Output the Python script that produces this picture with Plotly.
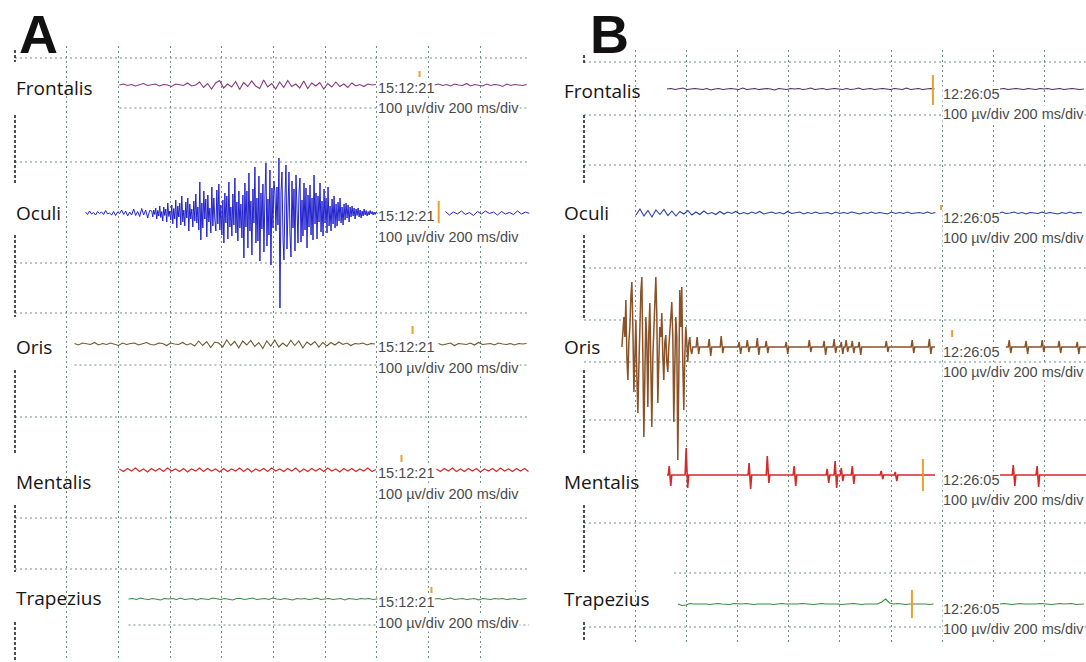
import numpy as np
import plotly.graph_objects as go

W, H = 1086, 662

MUSCLES = ["Frontalis", "Oculi", "Oris", "Mentalis", "Trapezius"]
STAMP_A = "15:12:21"
STAMP_B = "12:26:05"
SCALE_TEXT = "100 µv/div 200 ms/div"
UV_PER_DIV = 100.0          # vertical sensitivity
MS_PER_DIV = 200.0          # sweep speed
STAMP_T = 1400              # ms, start of the timestamp / scale labels

# ---------------- Panel A : amplitudes in µV (positive = up) ----------------
FR_A1_T0, FR_A1_DT = 404, 15.5
FR_A1 = [0, 2, -1, 1, -2, 0, 3, -1, 0, 2, -2, 1, 0, -3, 2, 1, -1, 4, -2, 0,
         6, -5, 3, -8, 4, 9, -6, 2, -4, 7, -9, 5, -3, 8, -2, -7, 10, -4, 3, -8,
         6, -5, 9, -3, 2, -6, 8, -7, 4, -2, 5, -8, 3, -4, 6, -3, 2, -5, 4, -2,
         1, -3, 2, 0, 1]
FR_A2_T0, FR_A2_DT = 1623, 15.5
FR_A2 = [0, 2, -1, 1, -2, 2, 0, -1, 3, -2, 1, 0, -2, 2, -1, 1, 0, -3, 2, -1,
         1, 0, -1, 1]

# Oculi: quiet lead-in, then the blink burst sampled more densely
OC_A1_T0, OC_A1_DT = 273, 7.75
OC_A1 = [2, -3, 4, -2, 1, -4, 3, -1, 2, -3, 5, -2, 0, -4, 3, -5, 2, -1, 6, -3,
         4, -6, 2, -4, 8, -5, 3, -7, 9, -4, 6, -10, 5]
OC_A_BURST_T0, OC_A_BURST_DT = 529, 3.875
OC_A_BURST = [4, -8, 6, -3, 10, -12, 5, -6, 14, -9, 3, -16, 12, -5, 8, -18, 20, -7, 4, -14,
              16, -22, 9, -12, 26, -30, 14, -8, 20, -24, 34, -18, 6, -26, 22, -10, 30, -36,
              18, -12, 8, -28, 24, -16, 38, -20, 12, -34, 62, -54,
              20, -30, 44, -12, 28, -48, 36, -18, 10, -40, 52, -26, 30, -14, -36, 46, -22,
              58, -34, 16, -44, 26, -60, 40, -20, 34, -52, 62, -28, 12, -46, 38, -24, 70,
              -40, 22, -56, 44, -30, 18,
              -50, 36, -90, 60, -28, 44, -70, 80, -36, 24, -84, 48, -20, 92, -60, 30, -56,
              74, -96, 40, -32, 58, -78, 36, 100, -66, 28, -44, 86, -104, 50, -30, 64, 40,
              -36, 52, -24, 110, -190, 40, 82, -50, -94, 30, 96, -72, 22, 82, -40, -88, 64,
              -30, 48, -76, 76, -20, -60, 40, 70, -58, 26, -46, 60, -34, 50, -70, 36, -28, 56,
              -44, 30, -54, 76, -22, 40, -52, 34, -18, 60, -38, 24, -46, 48, -20, 30, -40,
              52, -26, 14, -36, 28, -22, 34, -30, 18, -26, 22, -16, 30, -20, 12, -24, 18,
              -14, 20, -10, 16, -18, 12,
              -8, 14, -6, 10, -12, 8, -5, 10, -8, 6, -10, 4, -6, 8, -4, 5, -6, 3, -4, 5,
              -2, 3, -4, 2, -3, 2, -1, 0]
OC_A2_T0, OC_A2_DT = 1665, 15.5
OC_A2 = [3, -4, 2, -2, 4, -3, 1, -5, 3, -2, 4, -1, 2, -4, 3, -2, 1, -3, 4, -2,
         2, -1]

OR_A1_T0, OR_A1_DT = 230, 15.5
OR_A1 = [1, -2, 2, 0, -1, 3, -2, 1, -1, 2, 0, -3, 2, -1, 1, 2, -2, 0, 3, -1,
         -2, 2, 1, -3, 2, 0, -1, 3, -2, 1,
         -4, 6, -3, 5, -7, 4, 2, -6, 8, -3, 5, -8, 6, -2, 7, -5, 3, -9, 6, -4,
         8, -6, 2, -5, 7, -3, 6, -8, 4, -2, 5, -6, 3, -4,
         3, -2, 4, -1, 2, -3, 1, 0, 2, -2, 1, 0]
OR_A2_T0, OR_A2_DT = 1638, 15.5
OR_A2 = [1, -2, 0, 2, -3, 1, 0, -1, 2, -2, 3, -1, 0, 1, -2, 2, 0, -1, 1, -2,
         1, 0, 1]

ME_A1_T0, ME_A1_DT = 404, 15.5
ME_A1 = [2, -3, 3, -2, 4, -3, 2, -4, 3, -2, 3, -3, 4, -2, 2, -3, 3, -4, 2, -2,
         4, -3, 3, -2, 2, -4, 3, -3, 2, -2, 4, -3, 3, -4, 2, -2, 3, -3, 4, -2,
         2, -3, 3, -2, 4, -4, 2, -3, 3, -2, 3, -3, 4, -2, 2, -4, 3, -2, 3, -3,
         2, -2, 4, -3, 1]
ME_A2_T0, ME_A2_DT = 1630, 15.5
ME_A2 = [2, -3, 3, -2, 4, -3, 2, -3, 3, -2, 3, -4, 2, -2, 3, -3, 4, -2, 2, -3,
         3, -2, 3, -3]

TR_A1_T0, TR_A1_DT = 439, 15.5
TR_A1 = [0, 1, -1, 2, 0, -1, 1, 0, -2, 1, 0, 1, -1, 2, -1, 0, 1, -2, 1, 0,
         -1, 2, 0, -1, 1, 0, -2, 1, 1, -1, 0, 2, -1, 0, 1, -1, 2, 0, -1, 1,
         0, -2, 1, 0, 1, -1, 0, 2, -1, 0, 1, -1, 0, 1, -2, 1, 0, -1, 1, 0,
         1, -1, 0, 1]
TR_A2_T0, TR_A2_DT = 1623, 15.5
TR_A2 = [0, 1, -1, 0, 2, -1, 0, 1, -1, 0, 1, -2, 1, 0, -1, 1, 0, 1, -1, 0,
         1, -1, 0, 1]

# event markers per channel: time (ms), low / high excursion (µV)
MARK_A_T = [1565, 1639, 1538, 1495, 1611]
MARK_A_LO = [16, -20, 20, 16, 12]
MARK_A_HI = [28, 24, 36, 30, 24]

# ---------------- Panel B : amplitudes in µV ----------------
FR_B1_T0, FR_B1_DT = 324, 15.6
FR_B1 = [0, 1, -1, 0, 2, -1, 0, 1, 0, -1, 1, -2, 0, 1, -1, 0, 1, 0, -1, 2,
         -1, 0, 1, -1, 0, 1, 0, -2, 1, 0, -1, 1, 0, 1, -1, 0, 2, -1, 0, 1,
         -1, 0, 1, 0, -1, 1, -1, 0, 2, -1, 0, 1, -1, 0, 1, 0, -1, 1, 0, -1,
         2, -1, 0, 1, -1, 0, 1, 0]
FR_B2_T0, FR_B2_DT = 1625, 15.6
FR_B2 = [0, 1, -1, 0, 1, 0, -1, 1, 0, -1, 1, 0, 1, -1, 0, 1, -1, 0, 1, 0,
         -1, 0]

OC_B1_T0, OC_B1_DT = 203, 15.6
OC_B1 = [-4, 8, -6, 5, -8, 6, -3, 7, -5, 4, -6, 3, -2, 5, -4, 2, -3, 4, -2, 1,
         -3, 3, -2, 2, -1, 3, -2, 1, -2, 2, -1, 3, -2, 0, 2, -1, 1, -2, 3, -1,
         0, 2, -2, 1, -1, 2, -1, 0, 1, -2, 2, -1, 1, -1, 2, 0, -2, 1, -1, 2,
         -1, 1, 0, -2, 2, -1, 1, -1, 2, -1, 0, 1, -1, 2, -1, 1]
OC_B2_T0, OC_B2_DT = 1602, 15.6
OC_B2 = [1, -2, 2, -1, 0, 2, -1, 1, -2, 1, 0, -1, 2, -1, 1, 0, -2, 1, -1, 2,
         -1, 1, 0]

# Oris burst at the start of the sweep, then isolated discharges
OR_B_BURST_T0, OR_B_BURST_DT = 148, 3.9
OR_B_BURST = [0, 30, 60, 20, 94, -20, -66, 10, 40, 100, 130, 40, -90, -20, 54, -60,
              -132, -40, 70, 110, 140, 20, -180, -60, 60, 10, -120, 30, 88, -40,
              -160, -20, 30, 90, 140, 60, -112, -30, 40, 20, 68, -20, -66, 10, 24,
              -30, -50, 0, 30, 60, 90, 20, -150, -40, 60, 20, -226, -60, 114, 40,
              120, -30, -126, -20, 40, 10, -30, 8, 20, -6, -14]
OR_B1_END = 1371
OR_B1_SPIKE_T = [445, 492, 539, 609, 641, 680, 715, 793, 883, 941, 980, 1008,
                 1027, 1051, 1078, 1184, 1285, 1352]
OR_B1_SPIKE_UP = [20, 16, 22, 10, 14, 18, 12, 10, 14, 12, 16, 10, 14, 12, 10,
                  12, 14, 16]
OR_B1_SPIKE_DN = [14, 18, 12, 14, 10, 16, 12, 14, 10, 16, 12, 14, 10, 12, 16,
                  10, 12, 14]
OR_B2_T0, OR_B2_END = 1648, 1961
OR_B2_SPIKE_T = [1664, 1730, 1793, 1859, 1930]
OR_B2_SPIKE_UP = [14, 12, 14, 12, 10]
OR_B2_SPIKE_DN = [12, 14, 10, 12, 14]

ME_B1_T0, ME_B1_END = 324, 1371
ME_B1_SPIKE_T = [336, 402, 648, 719, 824, 953, 984, 1008, 1051, 1164, 1219]
ME_B1_SPIKE_UP = [18, 54, 24, 38, 18, 12, 28, 14, 18, 8, 6]
ME_B1_SPIKE_DN = [22, 26, 28, 16, 22, 16, 26, 12, 18, 8, 12]
ME_B2_T0, ME_B2_END = 1625, 1961
ME_B2_SPIKE_T = [1680, 1773]
ME_B2_SPIKE_UP = [20, 18]
ME_B2_SPIKE_DN = [22, 24]

TR_B1_T0, TR_B1_DT = 367, 15.6
TR_B1 = [0, -3, -2, 1, 0, 0, 1, 0, -1, 0, 1, 0, 0, -1, 1, 0, 0, 1, 0, -1,
         0, 0, 1, 0, -1, 0, 1, 0, 0, -1, 0, 1, 0, 0, -1, 0, 1, 0, 0, 1,
         0, -1, 0, 0, 1, 0, -1, 0, 0, 1, 0, 4, 10, 2, 0, 1, 0, -1, 0, 0,
         1, 0, 0, -1, 0]
TR_B2_T0, TR_B2_DT = 1625, 15.6
TR_B2 = [0, 1, 0, -1, 0, 1, 0, 0, -1, 0, 1, 0, 0, -1, 0, 1, 0, 0, 1, -1,
         0, 0]

MARK_B_T = [1363, 1395, 1438, 1324, 1281]
MARK_B_LO = [-32, 6, 20, -32, -28]
MARK_B_HI = [28, 16, 34, 32, 28]

# ---------------- screen geometry ----------------
DIV_PX_Y = 50.0
PANELS = {
    "A": dict(x0_px=15, div_px=51.7, t_max=1990, y_px=(46, 660),
              base=[1.70, 4.26, 6.88, 9.40, 11.98],
              grid_y=[1.16, 2.16, 3.24, 5.26, 6.26, 7.30, 8.34, 10.36, 11.38, 12.50],
              grid_start=[0, 404, 0, 0, 0, 230, 0, 0, 0, 439],
              edge=[(1.00, 1.24), (2.30, 3.66), (4.70, 6.34), (7.40, 9.10),
                    (10.10, 11.44), (12.44, 13.20)],
              stamp_dy=0.06, scale_dy=0.47,
              label_px=[(15, 88), (15, 213), (15, 347), (15, 482), (15, 598)],
              letter_px=(18, 34),
              colors=["#86387c", "#2222cc", "#6a5a2c", "#d42a2a", "#3c8c3c"],
              widths=[1.1, 1.0, 1.1, 1.2, 1.1]),
    "B": dict(x0_px=584, div_px=51.2, t_max=1961, y_px=(50, 642),
              base=[1.78, 4.26, 6.94, 9.50, 12.08],
              grid_y=[1.24, 2.30, 3.30, 5.36, 6.40, 7.24, 8.40, 10.46, 11.46, 12.54],
              grid_start=[0, 0, 0, 0, 0, 0, 0, 0, 352, 0],
              edge=[(1.10, 1.30), (2.30, 3.66), (4.70, 6.40), (7.40, 9.10),
                    (10.10, 11.44), (12.44, 12.80)],
              stamp_dy=0.10, scale_dy=0.50,
              label_px=[(563, 91), (563, 213), (563, 347), (563, 482), (563, 599)],
              letter_px=(589, 34),
              colors=["#4e2c5e", "#2c3c9c", "#8a5228", "#d42a2a", "#3c8c3c"],
              widths=[1.1, 1.1, 1.5, 1.6, 1.1]),
}
GRID_COLOR = "#6f8e82"
GRID_DASH = "2px,3px"
T_MIN = -6


def samples(t0, dt, vals):
    return t0 + dt * np.arange(len(vals)), np.asarray(vals, dtype=float)


def spike_train(t_start, t_end, spike_t, up, dn):
    xs, ys = [t_start], [0.0]
    for t, u, d in zip(spike_t, up, dn):
        xs += [t - 7, t - 3, t + 3, t + 7]
        ys += [0.0, u, -d, 0.0]
    xs.append(t_end)
    ys.append(0.0)
    return np.array(xs), np.array(ys)


def joined(*parts):
    return (np.concatenate([p[0] for p in parts]),
            np.concatenate([p[1] for p in parts]))


_oris_burst = samples(OR_B_BURST_T0, OR_B_BURST_DT, OR_B_BURST)
SEGMENTS = {
    "A": [
        [samples(FR_A1_T0, FR_A1_DT, FR_A1), samples(FR_A2_T0, FR_A2_DT, FR_A2)],
        [joined(samples(OC_A1_T0, OC_A1_DT, OC_A1),
                samples(OC_A_BURST_T0, OC_A_BURST_DT, OC_A_BURST)),
         samples(OC_A2_T0, OC_A2_DT, OC_A2)],
        [samples(OR_A1_T0, OR_A1_DT, OR_A1), samples(OR_A2_T0, OR_A2_DT, OR_A2)],
        [samples(ME_A1_T0, ME_A1_DT, ME_A1), samples(ME_A2_T0, ME_A2_DT, ME_A2)],
        [samples(TR_A1_T0, TR_A1_DT, TR_A1), samples(TR_A2_T0, TR_A2_DT, TR_A2)],
    ],
    "B": [
        [samples(FR_B1_T0, FR_B1_DT, FR_B1), samples(FR_B2_T0, FR_B2_DT, FR_B2)],
        [samples(OC_B1_T0, OC_B1_DT, OC_B1), samples(OC_B2_T0, OC_B2_DT, OC_B2)],
        [joined(_oris_burst,
                spike_train(_oris_burst[0][-1] + 4, OR_B1_END, OR_B1_SPIKE_T,
                            OR_B1_SPIKE_UP, OR_B1_SPIKE_DN)),
         spike_train(OR_B2_T0, OR_B2_END, OR_B2_SPIKE_T, OR_B2_SPIKE_UP, OR_B2_SPIKE_DN)],
        [spike_train(ME_B1_T0, ME_B1_END, ME_B1_SPIKE_T, ME_B1_SPIKE_UP, ME_B1_SPIKE_DN),
         spike_train(ME_B2_T0, ME_B2_END, ME_B2_SPIKE_T, ME_B2_SPIKE_UP, ME_B2_SPIKE_DN)],
        [samples(TR_B1_T0, TR_B1_DT, TR_B1), samples(TR_B2_T0, TR_B2_DT, TR_B2)],
    ],
}

MARKS = {"A": (MARK_A_T, MARK_A_LO, MARK_A_HI), "B": (MARK_B_T, MARK_B_LO, MARK_B_HI)}
STAMPS = {"A": STAMP_A, "B": STAMP_B}

fig = go.Figure()
layout_axes = {}

for k, (name, p) in enumerate(PANELS.items()):
    xa = "x" if k == 0 else "x2"
    ya = "y" if k == 0 else "y2"
    px_per_ms = p["div_px"] / MS_PER_DIV
    left = p["x0_px"] + T_MIN * px_per_ms
    right = p["x0_px"] + p["t_max"] * px_per_ms
    ytop, ybot = p["y_px"]
    layout_axes["xaxis" if k == 0 else "xaxis2"] = dict(
        domain=[left / W, min(right / W, 1.0)], range=[T_MIN, p["t_max"]],
        anchor=ya, tickmode="array",
        tickvals=[MS_PER_DIV * i for i in range(1, 10)],
        showgrid=True, gridcolor=GRID_COLOR, griddash=GRID_DASH, gridwidth=1,
        showticklabels=False, ticks="", zeroline=False, showline=False,
        fixedrange=True)
    layout_axes["yaxis" if k == 0 else "yaxis2"] = dict(
        domain=[1 - ybot / H, 1 - ytop / H],
        range=[ybot / DIV_PX_Y, ytop / DIV_PX_Y], anchor=xa,
        showgrid=False, showticklabels=False, ticks="", zeroline=False,
        showline=False, fixedrange=True)

    # horizontal division lines
    for gy, gs in zip(p["grid_y"], p["grid_start"]):
        fig.add_trace(go.Scatter(
            x=[max(gs, 0), p["t_max"]], y=[gy, gy], mode="lines",
            line=dict(color=GRID_COLOR, width=1, dash=GRID_DASH),
            xaxis=xa, yaxis=ya, hoverinfo="skip", showlegend=False))
    # left frame segments
    for y0, y1 in p["edge"]:
        fig.add_trace(go.Scatter(
            x=[0, 0], y=[y0, y1], mode="lines",
            line=dict(color="#222222", width=1.6, dash="3px,2px"),
            xaxis=xa, yaxis=ya, hoverinfo="skip", showlegend=False))

    # EMG traces
    for ch, segs in enumerate(SEGMENTS[name]):
        base = p["base"][ch]
        for tx, uv in segs:
            fig.add_trace(go.Scatter(
                x=tx, y=base - uv / UV_PER_DIV, mode="lines",
                line=dict(color=p["colors"][ch], width=p["widths"][ch]),
                xaxis=xa, yaxis=ya, hoverinfo="skip", showlegend=False))

    # event markers
    mt, mlo, mhi = MARKS[name]
    for ch in range(len(MUSCLES)):
        base = p["base"][ch]
        fig.add_trace(go.Scatter(
            x=[mt[ch], mt[ch]],
            y=[base - mlo[ch] / UV_PER_DIV, base - mhi[ch] / UV_PER_DIV],
            mode="lines", line=dict(color="#e8a030", width=2),
            xaxis=xa, yaxis=ya, hoverinfo="skip", showlegend=False))

    # timestamp and scale texts
    for ch in range(len(MUSCLES)):
        base = p["base"][ch]
        fig.add_annotation(x=STAMP_T, y=base + p["stamp_dy"], xref=xa, yref=ya,
                           text=STAMPS[name], showarrow=False, xanchor="left",
                           yanchor="middle", bgcolor="white", borderpad=0,
                           font=dict(family="Liberation Sans", size=14.5, color="#4a4a4a"))
        fig.add_annotation(x=STAMP_T, y=base + p["scale_dy"], xref=xa, yref=ya,
                           text=SCALE_TEXT, showarrow=False, xanchor="left",
                           yanchor="middle", bgcolor="white", borderpad=0,
                           font=dict(family="Liberation Sans", size=14.5, color="#4a4a4a"))

    # muscle labels
    for ch, (lx, ly) in enumerate(p["label_px"]):
        fig.add_annotation(x=lx / W, y=1 - ly / H, xref="paper", yref="paper",
                           text=MUSCLES[ch], showarrow=False, xanchor="left",
                           yanchor="middle", borderpad=0,
                           font=dict(family="Open Sans", size=19, color="#151515"))
    # panel letter
    lx, ly = p["letter_px"]
    fig.add_annotation(x=lx / W, y=1 - ly / H, xref="paper", yref="paper",
                       text="<b>" + name + "</b>", showarrow=False, xanchor="left",
                       yanchor="middle", borderpad=0,
                       font=dict(family="Liberation Sans", size=54, color="#111111"))

fig.update_layout(width=W, height=H, margin=dict(l=0, r=0, t=0, b=0),
                  paper_bgcolor="white", plot_bgcolor="white", showlegend=False,
                  **layout_axes)

fig.write_html("out.html")
